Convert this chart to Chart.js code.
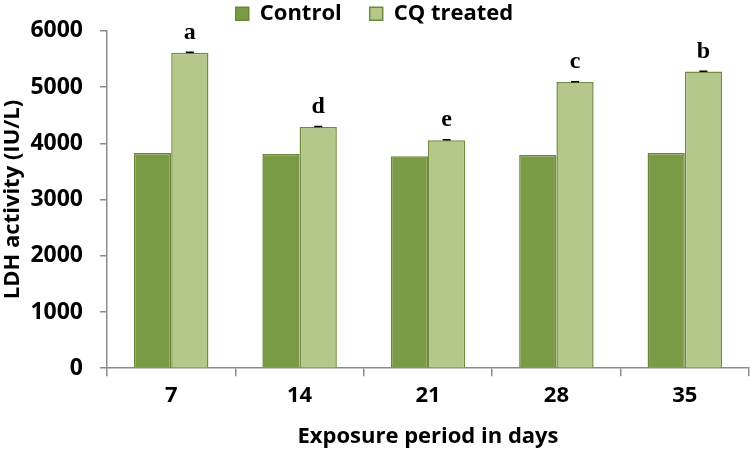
<!DOCTYPE html>
<html>
<head>
<meta charset="utf-8">
<script src="https://cdn.jsdelivr.net/npm/chart.js@4/dist/chart.umd.min.js"></script>
<style>
  html, body { margin: 0; padding: 0; background: #ffffff; }
  #wrap { width: 750px; height: 453px; }
</style>
</head>
<body>
<div id="wrap"><canvas id="c" width="750" height="453"></canvas></div>
<script>
const categories = ['7', '14', '21', '28', '35'];
const controlValues = [3825, 3810, 3770, 3790, 3825];
const treatedValues = [5610, 4290, 4055, 5090, 5275];
const treatedErrors = [8, 6, 6, 6, 6];
const sigLetters = ['a', 'd', 'e', 'c', 'b'];
const yTicks = [0, 1000, 2000, 3000, 4000, 5000, 6000];

const FONT = '"Open Sans", "DejaVu Sans", sans-serif';

const annotPlugin = {
  id: 'annot',
  afterDatasetsDraw(chart) {
    const ctx = chart.ctx;
    const meta = chart.getDatasetMeta(1);
    const y = chart.scales.y;
    ctx.save();
    meta.data.forEach((bar, i) => {
      const v = treatedValues[i];
      const e = treatedErrors[i];
      const yt = y.getPixelForValue(v + e);
      const yb = y.getPixelForValue(v - e);
      ctx.strokeStyle = '#000000';
      ctx.lineWidth = 1.5;
      ctx.beginPath();
      ctx.moveTo(bar.x - 4, yt); ctx.lineTo(bar.x + 4, yt);
      ctx.moveTo(bar.x, yt); ctx.lineTo(bar.x, yb);
      ctx.stroke();
      ctx.fillStyle = '#000000';
      ctx.font = 'bold 24px "Liberation Serif", "DejaVu Serif", serif';
      ctx.textAlign = 'center';
      ctx.textBaseline = 'alphabetic';
      ctx.fillText(sigLetters[i], bar.x, y.getPixelForValue(v) - 14);
    });
    ctx.restore();
  }
};

new Chart(document.getElementById('c'), {
  type: 'bar',
  data: {
    labels: categories,
    datasets: [
      {
        label: 'Control',
        data: controlValues,
        backgroundColor: '#7b9a46',
        borderColor: '#6a8738',
        borderWidth: 1.5,
        categoryPercentage: 0.58,
        barPercentage: 1.0
      },
      {
        label: 'CQ treated',
        data: treatedValues,
        backgroundColor: '#b3c88a',
        borderColor: '#6f8c3c',
        borderWidth: 1.5,
        categoryPercentage: 0.58,
        barPercentage: 1.0
      }
    ]
  },
  options: {
    responsive: false,
    animation: false,
    devicePixelRatio: 1,
    layout: { padding: { left: 0, right: 1, top: -26, bottom: 3 } },
    plugins: {
      legend: {
        position: 'top',
        maxHeight: 56,
        labels: {
          color: '#000000',
          font: { family: FONT, size: 22, weight: 'bold' },
          boxWidth: 13,
          boxHeight: 13,
          padding: 28
        }
      },
      tooltip: { enabled: false }
    },
    scales: {
      x: {
        offset: true,
        grid: {
          display: true,
          drawOnChartArea: false,
          offset: true,
          tickLength: 8,
          color: '#8c8c8c',
          lineWidth: 1.5
        },
        border: { color: '#8c8c8c', width: 1.5 },
        ticks: {
          color: '#000000',
          font: { family: FONT, size: 22, weight: 'bold' },
          padding: 6
        },
        title: {
          display: true,
          text: 'Exposure period in days',
          color: '#000000',
          font: { family: FONT, size: 22, weight: 'bold' },
          padding: { top: 9, bottom: 0 }
        }
      },
      y: {
        min: 0,
        max: 6000,
        afterBuildTicks(scale) {
          scale.ticks = yTicks.map(v => ({ value: v }));
        },
        afterFit(scale) { scale.width = 107; },
        grid: {
          display: true,
          drawOnChartArea: false,
          tickLength: 7,
          color: '#8c8c8c',
          lineWidth: 1.5
        },
        border: { color: '#8c8c8c', width: 1.5 },
        ticks: {
          color: '#000000',
          font: { family: FONT, size: 23, weight: 'bold' },
          padding: 17,
          callback: (v) => String(v)
        },
        title: {
          display: true,
          text: 'LDH activity (IU/L)',
          color: '#000000',
          font: { family: FONT, size: 22, weight: 'bold' },
          padding: { top: 0, bottom: 0 }
        }
      }
    }
  },
  plugins: [annotPlugin]
});
</script>
</body>
</html>
